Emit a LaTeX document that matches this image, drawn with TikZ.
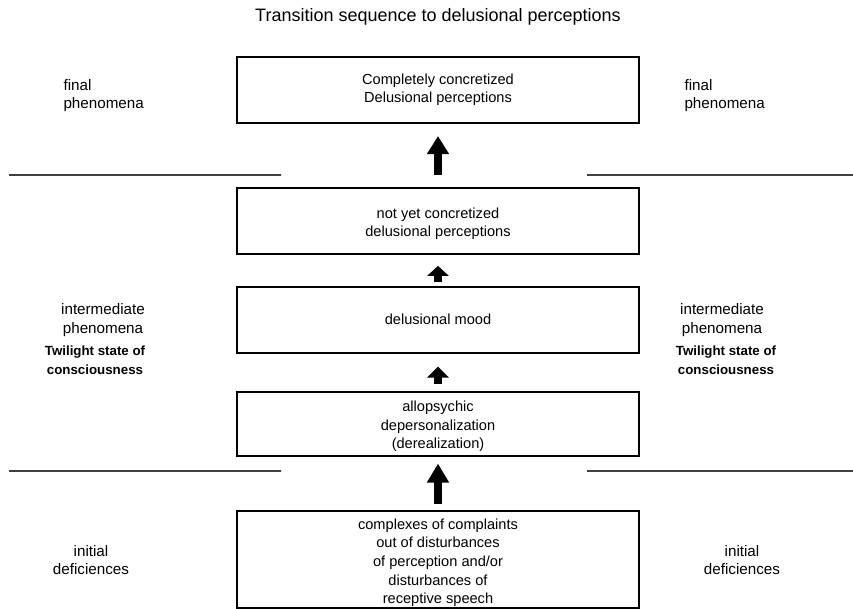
\documentclass[tikz,border=0pt]{standalone}
\usepackage{fontspec}
\setmainfont{Liberation Sans}
\usetikzlibrary{arrows.meta}
\begin{document}
\begin{tikzpicture}[x=1pt,y=-1pt,
  stagebox/.style={draw,line width=1.7pt,minimum width=402pt,inner sep=0pt,align=center,font=\fontsize{14.6}{18.6}\selectfont},
  sidelbl/.style={align=center,font=\fontsize{15.2}{18.6}\selectfont},
  sidebold/.style={align=center,font=\fontsize{13.3}{18.6}\selectfont\bfseries},
  sep/.style={line width=1.4pt,black!75,dash pattern=on 1.6pt off 0.4pt},
  bigarrow/.style={line width=8pt,-{Triangle[width=21pt,length=#1]}}]
\useasboundingbox (0,0) rectangle (853,608);
\node[font=\fontsize{18}{22}\selectfont] (title) at (438,17) {Transition sequence to delusional perceptions};
\node[stagebox,minimum height=66pt] (b1) at (438,89.7) {Completely concretized\\Delusional perceptions};
\node[stagebox,minimum height=66pt] (b2) at (438,221) {\rule{0pt}{16pt}not yet concretized\\delusional perceptions};
\node[stagebox,minimum height=66pt] (b3) at (438,319.7) {delusional mood};
\node[stagebox,minimum height=64pt] (b4) at (438,423.7) {\rule{0pt}{16pt}allopsychic\\depersonalization\\(derealization)};
\node[stagebox,minimum height=97pt] (b5) at (438,559.5) {\rule{0pt}{17pt}complexes of complaints\\out of disturbances\\of perception and/or\\disturbances of\\receptive speech};
\draw[bigarrow=18pt,shorten <=12pt,shorten >=12.5pt] (b2.north) -- (b1.south);
\draw[bigarrow=10pt,shorten <=4pt,shorten >=11pt] (b3.north) -- (b2.south);
\draw[bigarrow=11pt,shorten <=7pt,shorten >=13pt] (b4.north) -- (b3.south);
\draw[bigarrow=19pt,shorten <=6pt,shorten >=7pt] (b5.north) -- (b4.south);
\draw[sep] (9,175) -- (281,175);
\draw[sep] (587,175) -- (853,175);
\draw[sep] (9,471) -- (281,471);
\draw[sep] (587,471) -- (853,471);
\node[sidelbl,align=left,anchor=west] (fl) at (60,95.5) {final\\phenomena};
\node[sidelbl,align=left,anchor=west] (fr) at (681,95.5) {final\\phenomena};
\node[sidelbl] (il) at (103,320) {intermediate\\phenomena};
\node[sidelbl] (ir) at (722,320) {intermediate\\phenomena};
\node[sidebold] (tl) at (95,360) {Twilight state of\\consciousness};
\node[sidebold] (tr) at (726,360) {Twilight state of\\consciousness};
\node[sidelbl] (dl) at (91,560) {initial\\deficiences};
\node[sidelbl] (dr) at (742,560) {initial\\deficiences};
\end{tikzpicture}
\end{document}
